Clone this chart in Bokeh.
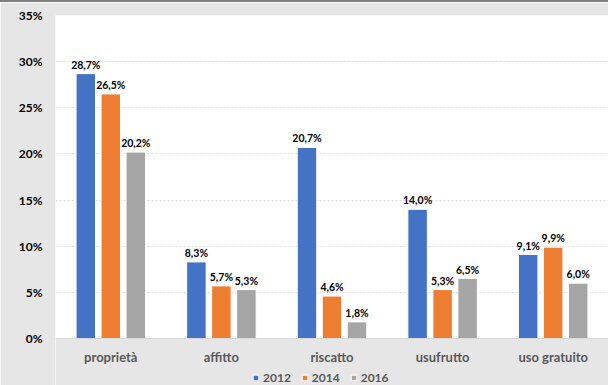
from bokeh.plotting import figure
from bokeh.models import ColumnDataSource, FactorRange, FixedTicker, CustomJSTickFormatter, Legend, LegendItem, BoxAnnotation, Range1d
from bokeh.transform import dodge
from bokeh.core.properties import value
from bokeh.embed import file_html
from bokeh.resources import INLINE

categories = ["proprietà", "affitto", "riscatto", "usufrutto", "uso gratuito"]
years = ["2012", "2014", "2016"]
v2012 = [28.7, 8.3, 20.7, 14.0, 9.1]
v2014 = [26.5, 5.7, 4.6, 5.3, 9.9]
v2016 = [20.2, 5.3, 1.8, 6.5, 6.0]
y_ticks = [0, 5, 10, 15, 20, 25, 30, 35]

colors = ["#4472C4", "#ED7D31", "#A5A5A5"]
FONT = "Lato"
BG = "#E7E6E6"

def fmt(v):
    return ("%.1f" % v).replace(".", ",") + "%"

src = ColumnDataSource(dict(
    cat=categories,
    v2012=v2012, v2014=v2014, v2016=v2016,
    l2012=[fmt(v) for v in v2012],
    l2014=[fmt(v) for v in v2014],
    l2016=[fmt(v) for v in v2016],
))

# frame spans from the 35% line down to the bottom of the picture;
# the region below 0 holds the category labels and the legend
y_bottom = -47 * 35 / 323
p = figure(frame_width=553, frame_height=370, x_range=FactorRange(*categories, range_padding=0),
           y_range=Range1d(y_bottom, 35), output_backend="svg", toolbar_location=None,
           min_border_left=55, min_border_right=0, min_border_top=13, min_border_bottom=0)
p.background_fill_color = "white"
p.border_fill_color = BG
p.outline_line_color = None
p.styles = {"border-top": "2px solid #7F7F7F"}

below_zero = BoxAnnotation(top=0, fill_color=BG, fill_alpha=1, line_color=None, level="underlay")
p.add_layout(below_zero)

offsets = [-0.226, 0.0, 0.226]
renderers = []
for yr, off, c in zip(years, offsets, colors):
    r = p.vbar(x=dodge("cat", off, range=p.x_range), top="v" + yr, width=0.176, source=src,
               fill_color=c, line_color="white", line_width=1)
    renderers.append(r)
    p.text(x=dodge("cat", off, range=p.x_range), y="v" + yr, text="l" + yr, source=src,
           text_align="center", text_baseline="bottom", y_offset=-3,
           text_font=value(FONT), text_font_style="bold", text_font_size="10.5px", text_color="black")

p.yaxis.ticker = FixedTicker(ticks=y_ticks)
p.yaxis.formatter = CustomJSTickFormatter(code="return tick + '%';")
p.yaxis.axis_line_color = None
p.yaxis.major_tick_line_color = None
p.yaxis.minor_tick_line_color = None
p.yaxis.major_tick_out = 0
p.yaxis.minor_tick_out = 0
p.yaxis.major_label_text_font = FONT
p.yaxis.major_label_text_font_style = "bold"
p.yaxis.major_label_text_font_size = "12px"
p.yaxis.major_label_text_color = "black"
p.yaxis.major_label_standoff = 13

p.xaxis.fixed_location = 0
p.xaxis.axis_line_color = "#D9D9D9"
p.xaxis.major_tick_line_color = None
p.xaxis.minor_tick_line_color = None
p.xaxis.major_tick_out = 0
p.xaxis.minor_tick_out = 0
p.xaxis.major_label_text_font = FONT
p.xaxis.major_label_text_font_style = "bold"
p.xaxis.major_label_text_font_size = "13px"
p.xaxis.major_label_text_color = "#595959"
p.xaxis.major_label_standoff = 10

p.xgrid.grid_line_color = None
p.ygrid.grid_line_color = "#D9D9D9"
p.ygrid.grid_line_dash = "2 2"
p.ygrid.grid_line_width = 1

legend = Legend(items=[LegendItem(label=y, renderers=[r]) for y, r in zip(years, renderers)],
                orientation="horizontal", location=(197, 0))
legend.background_fill_alpha = 0
legend.border_line_color = None
legend.label_text_font = FONT
legend.label_text_font_style = "bold"
legend.label_text_font_size = "12px"
legend.label_text_color = "#595959"
legend.label_height = 13
legend.glyph_width = 7
legend.glyph_height = 7
legend.label_standoff = 4
legend.spacing = 10
legend.padding = 0
legend.margin = 0
p.add_layout(legend, "center")

open("out.html", "w").write(file_html(p, INLINE))
